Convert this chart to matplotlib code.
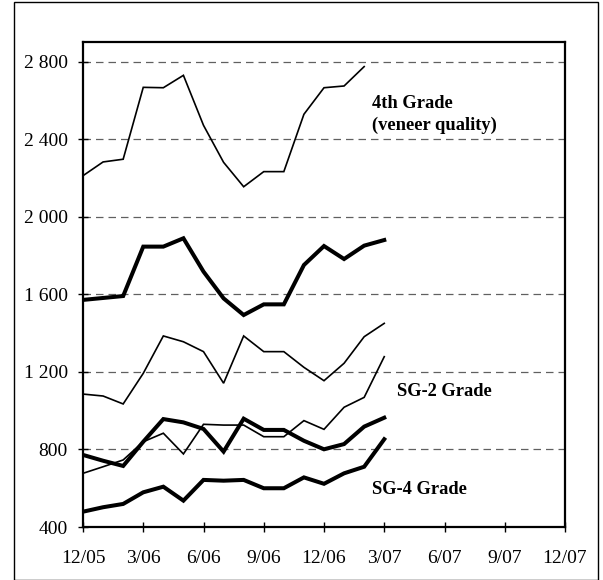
import matplotlib
matplotlib.use("Agg")
import matplotlib.pyplot as plt
from matplotlib.patches import Rectangle
import numpy as np

plt.rcParams['font.family'] = ['Liberation Serif', 'DejaVu Serif']

# Monthly data starting 12/05 (month index 0)
grade4_veneer = [2213, 2284, 2298, 2669, 2667, 2731, 2473, 2282, 2156, 2234, 2234, 2530, 2667, 2676, 2776]
upper_thick = [1572, 1582, 1592, 1847, 1847, 1890, 1718, 1580, 1494, 1549, 1549, 1752, 1850, 1783, 1852, 1881]
upper_thin = [1086, 1076, 1035, 1193, 1386, 1356, 1305, 1142, 1386, 1305, 1305, 1224, 1155, 1245, 1382, 1451]
sg2_thin = [677, 711, 746, 840, 884, 777, 930, 926, 926, 866, 866, 949, 904, 1018, 1069, 1279]
sg2_thick = [772, 742, 715, 840, 957, 940, 906, 789, 959, 901, 901, 845, 801, 828, 918, 964]
sg4_thick = [479, 502, 519, 579, 608, 536, 643, 639, 643, 600, 600, 656, 623, 677, 711, 853]

x_tick_labels = ['12/05', '3/06', '6/06', '9/06', '12/06', '3/07', '6/07', '9/07', '12/07']
y_ticks = [400, 800, 1200, 1600, 2000, 2400, 2800]

fig = plt.figure(figsize=(6.03, 5.80), dpi=100)
ax = fig.add_axes([83/603, 1 - 527/580, (565-83)/603, (527-42)/580])

thin_lw = 1.2
thick_lw = 2.9

series = [
    (grade4_veneer, thin_lw),
    (upper_thick, thick_lw),
    (upper_thin, thin_lw),
    (sg2_thin, thin_lw),
    (sg2_thick, thick_lw),
    (sg4_thick, thick_lw),
]
for vals, lw in series:
    ax.plot(np.arange(len(vals)), vals, color='black', lw=lw, zorder=3,
            solid_joinstyle='miter')

ax.set_xlim(0, 24)
ax.set_ylim(400, 2903)
ax.set_xticks(np.arange(0, 25, 3))
ax.set_xticklabels(x_tick_labels)
ax.set_yticks(y_ticks)
ax.set_yticklabels([f"{v:,}".replace(",", " ") for v in y_ticks])

for v in y_ticks[1:]:
    ax.axhline(v, color='#606060', lw=0.9, dashes=(6, 4), zorder=1)

for s in ax.spines.values():
    s.set_linewidth(1.6)
ax.tick_params(axis='both', direction='inout', length=7, width=1, labelsize=14, colors='black')
ax.tick_params(axis='y', pad=7.5)
ax.tick_params(axis='x', pad=13)

txt_kw = dict(fontsize=13.3, fontweight='bold', ha='left', va='center', color='black')
ax.text(14.4, 2588, '4th Grade', **txt_kw)
ax.text(14.4, 2474, '(veneer quality)', **txt_kw)
ax.text(15.65, 1097, 'SG-2 Grade', **txt_kw)
ax.text(14.4, 591, 'SG-4 Grade', **txt_kw)

fig.patches.append(Rectangle((14/603, 0.0), (598-14)/603, 1 - 1.5/580,
                             transform=fig.transFigure, fill=False,
                             edgecolor='black', lw=1.0))

fig.savefig('out.png', dpi=100)
